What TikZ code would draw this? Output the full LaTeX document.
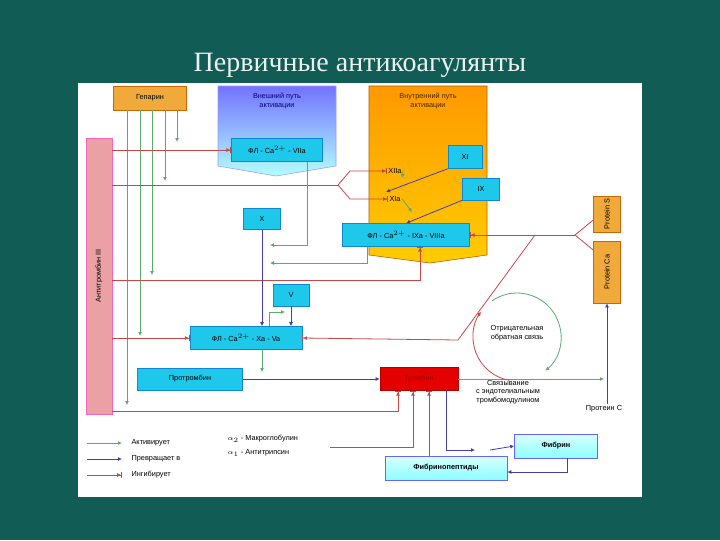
\documentclass[tikz,border=0pt]{standalone}
\usepackage{fontspec}
\setmainfont{Liberation Sans}
\newfontfamily\titlefont{Liberation Serif}
\usetikzlibrary{arrows.meta,calc}
\definecolor{slidebg}{RGB}{18,92,86}
\definecolor{cyanbox}{RGB}{30,200,235}
\definecolor{orangebox}{RGB}{240,170,60}
\definecolor{actgreen}{RGB}{90,170,110}
\definecolor{convblue}{RGB}{70,60,170}
\definecolor{inhred}{RGB}{200,70,70}
\tikzset{
  box/.style={draw=cyan!70!blue, fill=cyanbox, font=\fontsize{5.5}{6}\selectfont, inner sep=1pt},
  act/.style={actgreen, line width=0.6pt, -{Latex[length=3pt,width=3pt]}},
  conv/.style={convblue, line width=0.6pt, -{Latex[length=3pt,width=3pt]}},
  inh/.style={inhred, line width=0.6pt, -{Latex[length=3pt,width=3pt] Bar[width=5pt]}},
  lbl/.style={font=\fontsize{5.5}{6.5}\selectfont, align=center, inner sep=1pt}
}
\begin{document}
\begin{tikzpicture}[x=0.75pt,y=0.75pt,yscale=-1,xscale=1]
\useasboundingbox (0,0) rectangle (720,540);
% slide
\fill[slidebg] (0,0) rectangle (720,540);
\node[text=white!92!slidebg, font=\titlefont\fontsize{21}{24}\selectfont] (title) at (360,65) {Первичные антикоагулянты};
\fill[white] (78,83) rectangle (642,497);

% pathways
\path[draw=blue!40, top color=blue!55!white, bottom color=cyan!30] (218,86) -- (336,86) -- (336,166) -- (276,176) -- (218,166) -- cycle;
\node[lbl, text=blue!50!black] (extl) at (277,101) {Внешний путь\\активации};
\path[draw=orange!70!black, top color=orange!80!yellow, bottom color=yellow!60!orange] (369,86) -- (487,86) -- (487,255) -- (430,263) -- (369,255) -- cycle;
\node[lbl, text=orange!30!black] (intl) at (428,101) {Внутренний путь\\активации};

% boxes
\node[box, fill=orangebox, draw=orange!80!black, minimum width=73pt*0.75, minimum height=24pt*0.75] (hep) at (150,98) {Гепарин};
\node[draw=magenta!60, fill=magenta!35!violet!20!pink, minimum width=26pt*0.75, minimum height=276pt*0.75] (at3) at (99,276) {};
\node[lbl, rotate=90] at (at3) {Антитромбин III};
\node[box, minimum width=91pt*0.75, minimum height=23pt*0.75] (f7) at (277,150) {ФЛ - Ca$^{2+}$ - VIIa};
\node[box, minimum width=34pt*0.75, minimum height=23pt*0.75] (f11) at (465,157) {XI};
\node[box, minimum width=37pt*0.75, minimum height=22pt*0.75] (f9) at (481,189) {IX};
\node[lbl] (f12a) at (395,171) {XIIa};
\node[lbl] (f11a) at (395,199) {XIa};
\node[box, minimum width=127pt*0.75, minimum height=23pt*0.75] (f98) at (406,235) {ФЛ - Ca$^{2+}$ - IXa - VIIIa};
\node[box, minimum width=37pt*0.75, minimum height=21pt*0.75] (fx) at (262,219) {X};
\node[box, minimum width=36pt*0.75, minimum height=22pt*0.75] (fv) at (291,295) {V};
\node[box, minimum width=112pt*0.75, minimum height=23pt*0.75] (xava) at (246,338) {ФЛ - Ca$^{2+}$ - Xa - Va};
\node[box, minimum width=105pt*0.75, minimum height=22pt*0.75] (prot) at (190,379) {Протромбин};
\node[box, fill=red!90!black, draw=red!70!black, text=red!60!black, minimum width=78pt*0.75, minimum height=23pt*0.75] (thr) at (419,379) {Тромбин};
\node[box, fill=orangebox, draw=orange!80!black, minimum width=27pt*0.75, minimum height=36pt*0.75] (ps) at (607,214) {};
\node[lbl, rotate=90] at (ps) {Protein S};
\node[box, fill=orangebox, draw=orange!80!black, minimum width=27pt*0.75, minimum height=62pt*0.75] (pca) at (607,272) {};
\node[lbl, rotate=90] at (pca) {Protein Ca};
\node[box, draw=blue!60, top color=cyan!15, bottom color=cyan!45, font=\bfseries\fontsize{5.5}{6}\selectfont, minimum width=83pt*0.75, minimum height=24pt*0.75] (fib) at (556,446) {Фибрин};
\node[box, draw=blue!60, top color=cyan!15, bottom color=cyan!45, font=\bfseries\fontsize{5.5}{6}\selectfont, minimum width=122pt*0.75, minimum height=24pt*0.75] (fpep) at (446,468) {Фибринопептиды};

% texts
\node[lbl] (neg) at (517,333) {Отрицательная\\обратная связь};
\node[lbl] (bind) at (508,392) {Связывание\\с эндотелиальным\\тромбомодулином};
\node[lbl] (pc) at (604,409) {Протеин С};
\node[lbl, anchor=west] (amg) at (226,439) {$\alpha_2$ - Макроглобулин};
\node[lbl, anchor=west] (aat) at (226,453) {$\alpha_1$ - Антитрипсин};

% heparin
\foreach \x/\y in {127/405,140/336,152/275,165/181,177/142}
  \draw[act] (hep.south -| \x,0) -- (\x,\y);

% antithrombin
\draw[inh] (at3.east |- f7) -- (f7.west);
\coordinate (fork) at (338,185);
\draw[inhred, line width=0.6pt] (at3.east |- fork) -- (fork);
\draw[inh] (fork) -- (350,171) -- (f12a.west);
\draw[inh] (fork) -- (350,199) -- (f11a.west);
\draw[inh] (at3.east |- 0,280) -- (420,280) -- (f98.south -| 420,0);
\draw[inh] (at3.east |- xava) -- (xava.west);
\draw[inh] (at3.east |- 0,411) -- (398,411) -- (thr.south -| 398,0);

% intrinsic
\draw[act] (f12a.east) -- (f11a.east |- 0,178);
\draw[conv] (f11.south west) -- (386,192);
\draw[act] (f11a.east) -- (412,212);
\draw[conv] (f9.south west) -- (f98.north);

% to X-Va
\draw[act] (f7.south -| 307,0) -- (307,245) -- (270,245);
\draw[act] (f98.south -| 367,0) -- (367,263) -- (270,263);
\draw[conv] (fx.south) -- (xava.north -| fx.south);
\draw[conv] (fv.south) -- (xava.north -| fv.south);
\draw[act] (xava.north -| 269,0) -- (269,312) -- (285,312);
\draw[act] (xava.south -| 262,0) -- (262,372);
\draw[conv] (prot.east) -- (thr.west);

% proteins
\coordinate (pfork) at (575,235);
\draw[inhred, line width=0.6pt] (ps.west |- 0,220) -- (pfork) -- (pca.west |- 0,250);
\draw[inh] (pfork) -- (f98.east);
\draw[inh] (535,235) -- (458,340) -- (xava.east);
\draw[act] (thr.east) -- (604,379);
\draw[conv] (pc.north -| pca.south) -- (pca.south);

% feedback
\draw[inhred, line width=0.6pt, -{Latex[length=3pt,width=3pt]}] (517,337) ++(100:44) arc[start angle=100, end angle=215, radius=44];
\draw[actgreen, line width=0.6pt, -{Latex[length=3pt,width=3pt]}] (517,337) ++(235:44) arc[start angle=235, end angle=410, radius=44];

% fibrin
\draw[conv] (thr.south -| 446,0) -- (446,450) -- (475,450);
\draw[conv] (490,450) -- (fib.west);
\draw[conv] (fib.south -| 567,0) -- (567,472) -- (fpep.east |- 0,472);
\draw[inh] (fpep.north -| 429,0) -- (thr.south -| 429,0);
\draw[inh] (330,447) -- (413,447) -- (thr.south -| 413,0);

% legend
\foreach \s/\t/\y in {act/Активирует/443, conv/Превращает в/459, inh/Ингибирует/475}{
  \draw[\s] (87,\y) -- (122,\y);
  \node[lbl, anchor=west] at (130,\y) {\t};
}
\end{tikzpicture}
\end{document}
